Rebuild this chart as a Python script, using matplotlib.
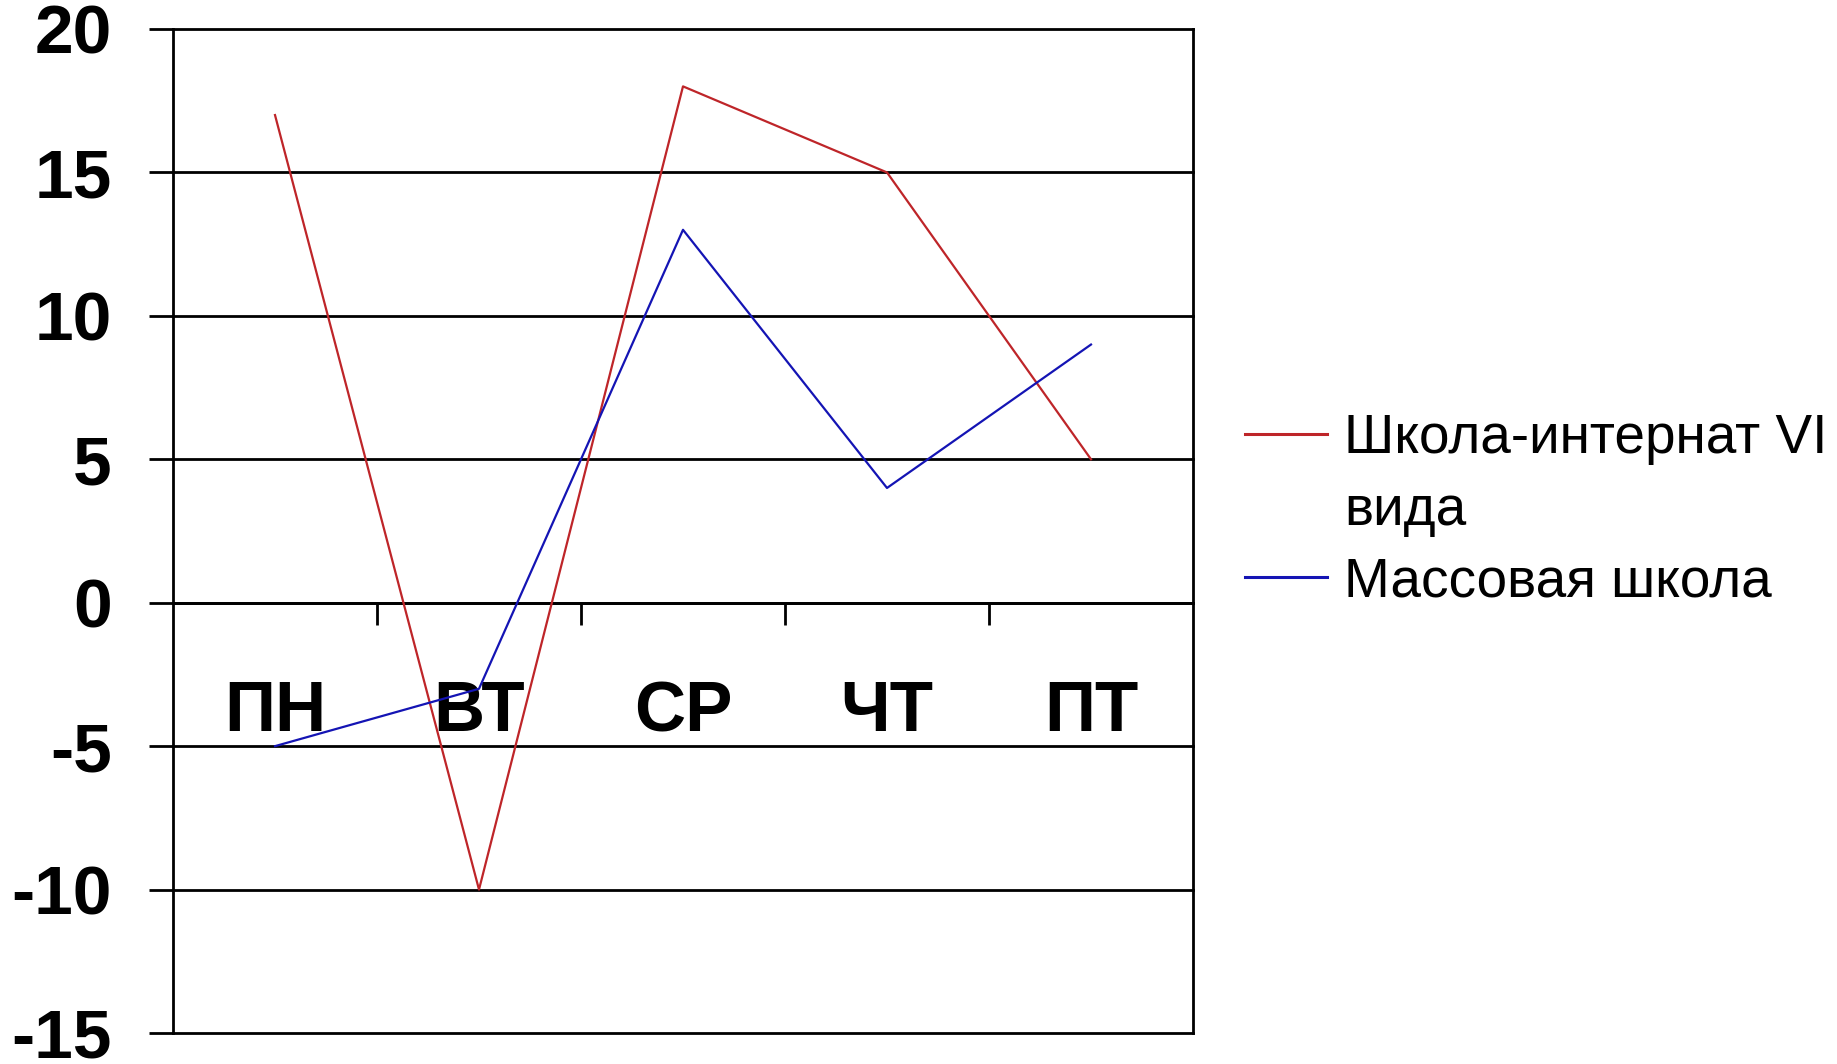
import matplotlib
matplotlib.use("Agg")
import matplotlib.pyplot as plt
from matplotlib.lines import Line2D

plt.rcParams['font.family'] = ['Liberation Sans', 'DejaVu Sans']

categories = ["ПН", "ВТ", "СР", "ЧТ", "ПТ"]
internat = [17, -10, 18, 15, 5]
mass_school = [-5, -3, 13, 4, 9]
yticks = [-15, -10, -5, 0, 5, 10, 15, 20]
label_internat_1 = "Школа-интернат VI"
label_internat_2 = "вида"
label_mass = "Массовая школа"

W, H = 1837, 1064
fig = plt.figure(figsize=(W / 100, H / 100), dpi=100)
ax = fig.add_axes([173 / W, 1 - 1033 / H, (1193 - 173) / W, (1033 - 29) / H])

ax.spines['bottom'].set_position(('data', 0))
ax.spines['top'].set_visible(False)
for s in ['left', 'right', 'bottom']:
    ax.spines[s].set_linewidth(2)
    ax.spines[s].set_color('black')

x = list(range(len(categories)))
red_color = '#BE2529'
blue_color = '#1414B4'
l1, = ax.plot(x, internat, color=red_color, lw=1.6, zorder=3)
l2, = ax.plot(x, mass_school, color=blue_color, lw=1.6, zorder=3)

ax.set_xlim(-0.5, len(categories) - 0.5)
ax.set_ylim(-15, 20)
ax.set_yticks(yticks)
ax.set_yticklabels([str(v) for v in yticks], fontsize=50, fontweight='bold')
ax.tick_params(axis='y', length=17, width=2, pad=27, direction='out')

ax.set_xticks(x)
ax.set_xticklabels(categories, fontsize=51, fontweight='bold')
ax.tick_params(axis='x', which='major', length=0, pad=56)
ax.set_xticks([i + 0.5 for i in range(len(categories) - 1)], minor=True)
ax.tick_params(axis='x', which='minor', length=16, width=2, direction='out')

ax.yaxis.grid(True, color='black', lw=2)
ax.set_axisbelow(True)
for gl in ax.get_ygridlines():
    gl.set_clip_on(False)

blank = Line2D([], [], color='none')
leg = ax.legend([l1, blank, l2], [label_internat_1, label_internat_2, label_mass],
                loc='upper left', bbox_to_anchor=(1245 / W, 1 - 413 / H),
                bbox_transform=fig.transFigure, frameon=False, fontsize=39.5,
                handlelength=1.5, handletextpad=0.3, borderpad=0,
                borderaxespad=0, labelspacing=0.36)
for line in leg.get_lines():
    line.set_linewidth(2.2)

fig.savefig("out.png", dpi=100)
